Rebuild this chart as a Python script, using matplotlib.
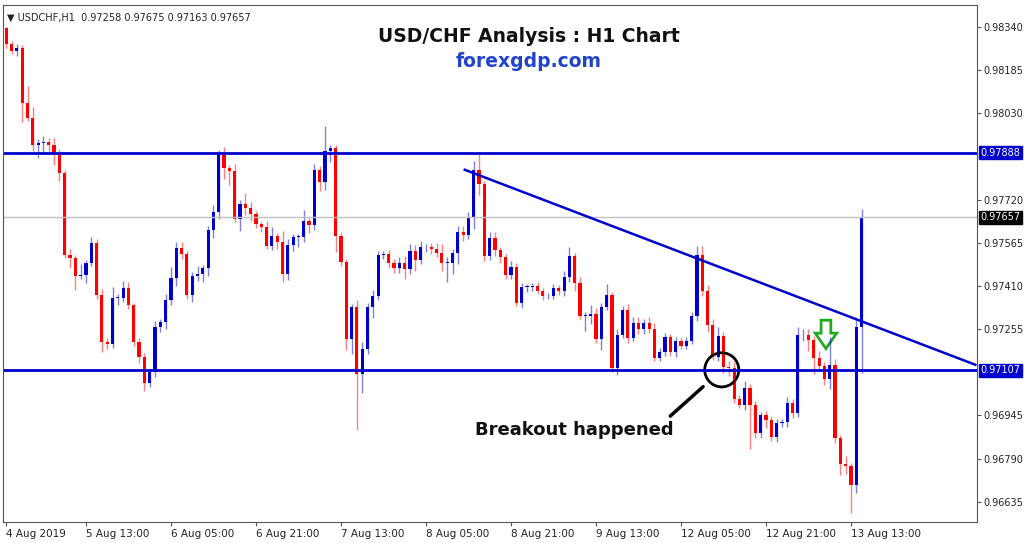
import matplotlib.pyplot as plt
from matplotlib.patches import Ellipse, FancyArrow
import numpy as np

# hourly closes in points (1e-5); open = previous close
first_open = 98336
close_pts = [
    98279, 98254, 98265, 98067, 98013, 97916, 97924, 97927, 97916, 97888, 97816, 97522, 97511, 97446, 97450, 97493,
    97565, 97378, 97209, 97202, 97367, 97367, 97403, 97342, 97209, 97155, 97062, 97102, 97263, 97281, 97360, 97439,
    97547, 97525, 97378, 97446, 97453,
    97475, 97611, 97676, 97884, 97834, 97823, 97651, 97705, 97690, 97669, 97633, 97622, 97554, 97590, 97568, 97453,
    97557, 97586, 97586, 97644, 97629, 97827, 97784, 97895, 97906, 97590, 97496, 97220, 97335, 97094, 97184, 97335,
    97374, 97522, 97525, 97493, 97475,
    97493, 97471, 97536, 97504, 97550, 97550, 97543, 97529, 97493, 97493, 97529, 97604, 97593, 97654, 97827, 97776,
    97518, 97583, 97539, 97514, 97450, 97478, 97349, 97407, 97407, 97410, 97392, 97374, 97374, 97403, 97392, 97443,
    97518, 97421, 97303, 97303, 97310, 97220, 97335,
    97378, 97116, 97234, 97324, 97224, 97277, 97256, 97277, 97256, 97152, 97173, 97227, 97173, 97213, 97195, 97213,
    97303, 97522, 97392, 97270, 97155, 97231, 97119, 97116, 97005, 96983, 97044, 96983, 96883, 96947, 96929, 96868,
    96918, 96922, 96990,
    96954, 97234, 97234, 97216, 97152, 97123, 97076, 97127, 96865, 96771, 96764, 96696, 97263, 97657,
]
# wick lengths above / below the body, points
upper_wick = [
    5, 10, 15, 10, 60, 40, 15, 20, 15, 25, 15, 10, 20, 10, 40, 10, 20, 15, 20, 15, 40, 15, 25, 20, 5, 15, 15, 10, 20, 10,
    20, 40, 20, 20, 10, 15, 30,
    10, 15, 25, 15, 25, 10, 25, 15, 40, 20, 10, 5, 20, 30, 10, 40, 20, 10, 10, 40, 10, 20, 15, 90, 10, 10, 15, 10,
    10, 25, 25, 15, 20, 15, 10, 15, 15,
    20, 25, 25, 20, 20, 10, 15, 20, 30, 20, 15, 20, 20, 20, 30, 65, 10, 20, 20, 10, 10, 20, 15, 15, 10, 10, 15, 10,
    10, 15, 10, 20, 30, 10, 20, 15, 30, 20, 15,
    40, 10, 20, 15, 20, 20, 20, 15, 20, 20, 15, 15, 10, 15, 10, 15, 15, 30, 30, 20, 20, 30, 15, 20, 20, 15, 25, 15,
    15, 10, 15, 15, 15, 10, 20,
    15, 30, 20, 20, 15, 25, 15, 100, 20, 10, 30, 10, 30, 30,
]
lower_wick = [
    15, 10, 20, 70, 10, 20, 45, 40, 25, 45, 30, 10, 35, 50, 10, 30, 10, 15, 35, 20, 15, 25, 15, 15, 15, 20, 30, 15,
    20, 20, 25, 20, 30, 20, 15, 25, 20,
    30, 30, 30, 25, 40, 50, 10, 45, 25, 25, 15, 20, 10, 15, 25, 30, 20, 20, 35, 20, 30, 20, 35, 30, 40, 60, 15, 40,
    55, 200, 70, 20, 40, 15, 15, 20, 20,
    20, 35, 20, 40, 15, 20, 20, 15, 30, 70, 40, 40, 20, 15, 40, 40, 20, 15, 20, 20, 15, 15, 10, 20, 20, 15, 10, 15,
    10, 10, 15, 20, 20, 30, 10, 55, 30, 15, 40,
    10, 15, 25, 10, 20, 10, 20, 20, 15, 10, 10, 15, 15, 20, 10, 10, 10, 20, 20, 25, 10, 15, 20, 30, 15, 10, 20, 160,
    20, 20, 30, 15, 20, 15, 20,
    20, 15, 20, 40, 60, 20, 20, 35, 20, 40, 30, 100, 30, 165,
]

levels = [97888, 97107]
last_price = 97657
trend_start = (86.3, 97827)
trend_end = (182.4, 97127)
right_ticks = [98340, 98185, 98030, 97720, 97565, 97410, 97255, 96945, 96790, 96635]
x_labels = ['4 Aug 2019', '5 Aug 13:00', '6 Aug 05:00', '6 Aug 21:00', '7 Aug 13:00', '8 Aug 05:00',
            '8 Aug 21:00', '9 Aug 13:00', '12 Aug 05:00', '12 Aug 21:00', '13 Aug 13:00']

c = np.array(close_pts) / 1e5
o = np.concatenate([[first_open / 1e5], c[:-1]])
hi = np.maximum(o, c) + np.array(upper_wick) / 1e5
lo = np.minimum(o, c) - np.array(lower_wick) / 1e5
n = len(c)
idx = np.arange(n)

fig = plt.figure(figsize=(10.24, 5.43), dpi=100)
ax = fig.add_axes([0.003, 0.039, 0.951, 0.952])
blue = '#0000cc'
red = '#ff0000'
for i in idx:
    col = blue if c[i] >= o[i] else red
    ax.vlines(i, lo[i], hi[i], color=col, lw=1, alpha=0.5)
    b0, b1 = min(o[i], c[i]), max(o[i], c[i])
    ax.bar(i, max(b1 - b0, 0.000015), bottom=b0, width=0.6, color=col, lw=0)

for lv in levels:
    ax.axhline(lv / 1e5, color=blue, lw=2)
ax.axhline(last_price / 1e5, color='#c0c0c0', lw=1)
ax.plot([trend_start[0], trend_end[0]], [trend_start[1] / 1e5, trend_end[1] / 1e5], color=blue, lw=1.8)

ax.set_xlim(-0.6, 182.7)
ax.set_ylim(0.96563, 0.98419)
ax.yaxis.tick_right()
ax.set_yticks([t / 1e5 for t in right_ticks])
ax.set_yticklabels(['%.5f' % (t / 1e5) for t in right_ticks], fontsize=7)
ax.set_xticks([0] + [15 + 16 * k for k in range(10)])
ax.set_xticklabels(x_labels, fontsize=7.5, ha='left')
ax.tick_params(length=3, pad=2, color='#555555', labelcolor='#222222')
for sp in ax.spines.values():
    sp.set_color('#555555')

for val, bg in [(97888, blue), (97657, 'black'), (97107, blue)]:
    ax.text(1.004, val / 1e5, '%.5f' % (val / 1e5), transform=ax.get_yaxis_transform(), fontsize=7,
            color='white', va='center', ha='left', bbox=dict(boxstyle='square,pad=0.15', fc=bg, ec=bg))

# annotations
ax.text(0.54, 0.938, 'USD/CHF Analysis : H1 Chart', transform=ax.transAxes, ha='center', va='center',
        fontsize=13.5, fontweight='bold', color='#111111')
ax.text(0.54, 0.89, 'forexgdp.com', transform=ax.transAxes, ha='center', va='center', fontsize=13.5,
        fontweight='bold', color='#2244cc')
ax.text(0.004, 0.985, '\u25bc USDCHF,H1  0.97258 0.97675 0.97163 0.97657', transform=ax.transAxes,
        fontsize=7, va='top', color='#222222')
ax.text(0.587, 0.178, 'Breakout happened', transform=ax.transAxes, ha='center', va='center', fontsize=13,
        fontweight='bold', color='#111111')
ax.annotate('', xy=(0.721, 0.265), xytext=(0.683, 0.201), xycoords='axes fraction',
            arrowprops=dict(arrowstyle='-', lw=2.5, color='black'))
ax.add_patch(Ellipse((0.738, 0.294), 0.035, 0.066, transform=ax.transAxes, fill=False, lw=2, ec='black'))
ax.add_patch(FancyArrow(0.845, 0.39, 0, -0.055, width=0.01, head_width=0.022, head_length=0.03,
                        transform=ax.transAxes, fc='white', ec='#22aa22', lw=2, length_includes_head=True))

fig.savefig('out.png', dpi=100)
